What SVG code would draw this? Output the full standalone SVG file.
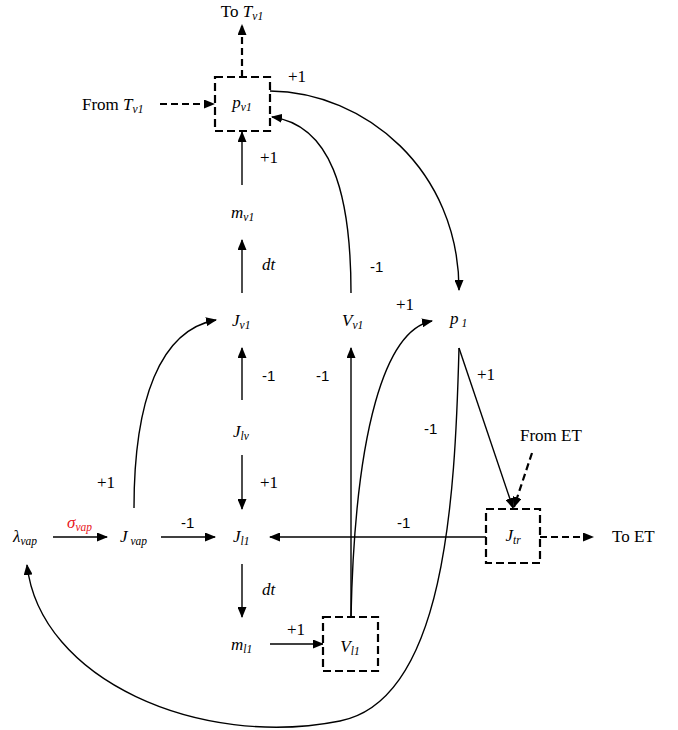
<svg xmlns="http://www.w3.org/2000/svg" width="678" height="730" viewBox="0 0 678 730">
<style>
.t{font-family:"Liberation Serif","Times New Roman",serif;font-size:17px;fill:#000}
.v{font-family:"Liberation Serif","Times New Roman",serif;font-size:17px;font-style:italic;fill:#000}
.s{font-size:11.5px}
.n{font-family:"Liberation Sans",Arial,sans-serif;font-size:15px;fill:#000}
.ln{fill:none;stroke:#000;stroke-width:1.4}
.dl{fill:none;stroke:#000;stroke-width:2.2;stroke-dasharray:7 4}
.box{fill:#fff;stroke:#000;stroke-width:2.2;stroke-dasharray:8 4}
</style>
<defs>
<marker id="ah" markerUnits="userSpaceOnUse" markerWidth="11" markerHeight="9" refX="10" refY="4.5" orient="auto">
<path d="M0,0 L11,4.5 L0,9 z" fill="#000"/>
</marker>
</defs>
<g id="connectors">
<line class="dl" x1="242" y1="77" x2="242" y2="25" marker-end="url(#ah)"/>
<line class="dl" x1="160" y1="104" x2="214" y2="104" marker-end="url(#ah)"/>
<line class="ln" x1="242" y1="185" x2="242" y2="132" marker-end="url(#ah)"/>
<line class="ln" x1="242" y1="293" x2="242" y2="240" marker-end="url(#ah)"/>
<line class="ln" x1="242" y1="400" x2="242" y2="348" marker-end="url(#ah)"/>
<line class="ln" x1="242" y1="455" x2="242" y2="509" marker-end="url(#ah)"/>
<line class="ln" x1="242" y1="564" x2="242" y2="617" marker-end="url(#ah)"/>
<line class="ln" x1="53" y1="537" x2="107" y2="537" marker-end="url(#ah)"/>
<line class="ln" x1="161" y1="537" x2="215" y2="537" marker-end="url(#ah)"/>
<line class="ln" x1="486" y1="537" x2="270" y2="537" marker-end="url(#ah)"/>
<line class="ln" x1="270" y1="644" x2="323" y2="644" marker-end="url(#ah)"/>
<line class="ln" x1="351" y1="617" x2="351" y2="348" marker-end="url(#ah)"/>
<line class="ln" x1="459" y1="348" x2="513" y2="508" marker-end="url(#ah)"/>
<line class="dl" x1="532" y1="453" x2="514" y2="507" marker-end="url(#ah)"/>
<line class="dl" x1="540" y1="537" x2="593" y2="537" marker-end="url(#ah)"/>
<path class="ln" d="M270,91 C365,92 459,170 459,290" marker-end="url(#ah)"/>
<path class="ln" d="M351,293 C351,190 330,125 272,117" marker-end="url(#ah)"/>
<path class="ln" d="M134,508 C134,400 160,330 216,320" marker-end="url(#ah)"/>
<path class="ln" d="M351,617 C355,430 385,330 432,321" marker-end="url(#ah)"/>
<path class="ln" d="M459,348 C455,500 445,700 340,721 C200,749 40,680 27,565" marker-end="url(#ah)"/>
</g>
<g id="node-pv1"><rect class="box" x="215" y="77" width="55" height="54"/><text class="v" x="242" y="108" text-anchor="middle">p<tspan class="s" dy="3">v1</tspan></text></g>
<g id="node-toTv1"><text class="t" x="242" y="17" text-anchor="middle">To <tspan font-style="italic">T</tspan><tspan class="s" font-style="italic" dy="3">v1</tspan></text></g>
<g id="node-fromTv1"><text class="t" x="82" y="110">From <tspan font-style="italic">T</tspan><tspan class="s" font-style="italic" dy="3">v1</tspan></text></g>
<g id="node-mv1"><text class="v" x="231" y="218">m<tspan class="s" dy="3">v1</tspan></text></g>
<g id="node-Jv1"><text class="v" x="232" y="326">J<tspan class="s" dy="3">v1</tspan></text></g>
<g id="node-Vv1"><text class="v" x="342" y="326">V<tspan class="s" dy="3">v1</tspan></text></g>
<g id="node-p1"><text class="v" x="450" y="324">p<tspan class="s" dy="3"> 1</tspan></text></g>
<g id="node-Jlv"><text class="v" x="233" y="437">J<tspan class="s" dy="3">lv</tspan></text></g>
<g id="node-fromET"><text class="t" x="520" y="441">From ET</text></g>
<g id="node-lambda"><text class="v" x="13" y="542">λ<tspan class="s" dy="3">vap</tspan></text></g>
<g id="node-Jvap"><text class="v" x="120" y="542">J<tspan class="s" dy="3"> vap</tspan></text></g>
<g id="node-Jl1"><text class="v" x="233" y="542">J<tspan class="s" dy="3">l1</tspan></text></g>
<g id="node-Jtr"><rect class="box" x="486" y="509" width="54" height="54"/><text class="v" x="513" y="541" text-anchor="middle">J<tspan class="s" dy="3">tr</tspan></text></g>
<g id="node-toET"><text class="t" x="612" y="542">To ET</text></g>
<g id="node-ml1"><text class="v" x="231" y="650">m<tspan class="s" dy="3">l1</tspan></text></g>
<g id="node-Vl1"><rect class="box" x="323" y="617" width="55" height="54"/><text class="v" x="350" y="652" text-anchor="middle">V<tspan class="s" dy="3">l1</tspan></text></g>
<g id="labels">
<text class="t" x="288" y="82">+1</text>
<text class="t" x="260" y="163">+1</text>
<text class="v" x="262" y="270">dt</text>
<text class="n" x="370" y="272">-1</text>
<text class="t" x="396" y="310">+1</text>
<text class="n" x="262" y="381">-1</text>
<text class="n" x="316" y="381">-1</text>
<text class="t" x="477" y="380">+1</text>
<text class="n" x="424" y="434">-1</text>
<text class="t" x="97" y="488">+1</text>
<text class="t" x="260" y="488">+1</text>
<text x="67" y="528" font-family="Liberation Serif, serif" font-size="17" font-style="italic" fill="#e8141b">σ<tspan class="s" dy="3">vap</tspan></text>
<text class="n" x="181" y="528">-1</text>
<text class="n" x="397" y="528">-1</text>
<text class="v" x="262" y="595">dt</text>
<text class="t" x="287" y="635">+1</text>
</g>
</svg>
